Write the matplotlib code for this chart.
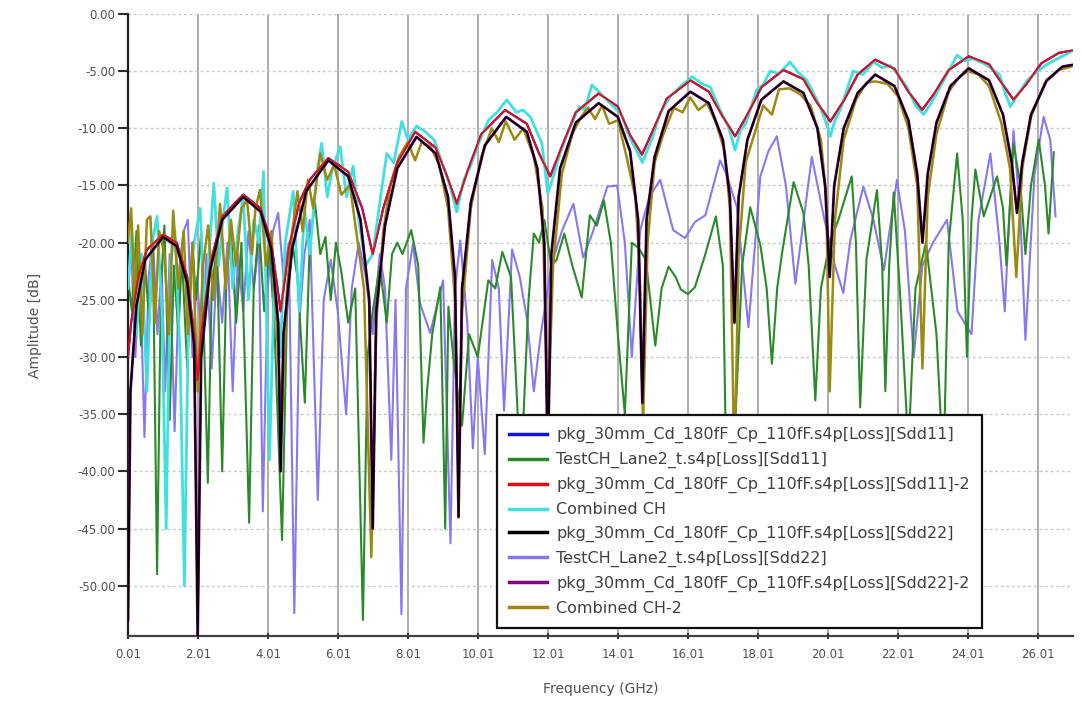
import numpy as np
import matplotlib
matplotlib.use('Agg')
import matplotlib.pyplot as plt

# ---- datos (GHz, dB) ----
# arcos del paquete Sdd11 (valles poco profundos arriba)
sdd11_pkg = [(0.01, -30), (0.1, -27), (0.3, -23), (0.55, -20.6), (1.01, -19.3), (1.4, -20),
             (1.7, -23), (1.9, -28), (2.0, -32), (2.1, -28), (2.35, -22), (2.7, -17.7),
             (3.3, -15.8), (3.8, -17), (4.1, -20), (4.37, -26), (4.6, -20.5), (4.9, -16.5),
             (5.2, -14.5), (5.73, -12.6), (6.3, -13.8), (6.7, -17), (7.0, -21), (7.3, -17),
             (7.7, -13), (8.21, -10.3), (8.8, -11.7), (9.1, -14), (9.4, -16.6), (9.7, -13.8),
             (10.1, -10.5), (10.78, -8.4), (11.4, -9.6), (11.75, -12.2), (12.07, -14.2),
             (12.4, -11.6), (12.8, -8.6), (13.45, -6.95), (14.0, -8.1), (14.35, -10.6),
             (14.69, -12.3), (15.0, -10.2), (15.4, -7.4), (16.07, -5.8), (16.6, -6.8),
             (17.0, -9.0), (17.35, -10.7), (17.7, -8.8), (18.1, -6.4), (18.73, -4.9),
             (19.3, -5.7), (19.7, -7.8), (20.07, -9.4), (20.45, -7.6), (20.85, -5.3),
             (21.35, -4.0), (21.9, -4.8), (22.3, -6.8), (22.69, -8.4), (23.05, -6.9),
             (23.45, -4.9), (24.02, -3.7), (24.6, -4.4), (25.0, -6.2), (25.3, -7.5),
             (25.65, -6.2), (26.1, -4.3), (26.6, -3.4), (26.97, -3.2)]

# arcos del paquete Sdd22 (nulos profundos)
sdd22_pkg = [(0.01, -53), (0.08, -33), (0.25, -25.5), (0.5, -21.5), (1.01, -19.5), (1.4, -20.3),
             (1.7, -23.5), (1.9, -29), (2.0, -54.4), (2.1, -30), (2.35, -22.5), (2.7, -18),
             (3.3, -16), (3.8, -17.3), (4.1, -20.5), (4.3, -27), (4.37, -40), (4.45, -28),
             (4.7, -20.5), (5.1, -15.5), (5.73, -12.8), (6.3, -14.2), (6.65, -18), (6.9, -25),
             (7.0, -45), (7.1, -26), (7.35, -18.5), (7.7, -13.5), (8.25, -10.75), (8.8, -12.2),
             (9.15, -16), (9.35, -23), (9.45, -44), (9.55, -24), (9.8, -16.5), (10.2, -11.5),
             (10.81, -9.0), (11.4, -10.3), (11.7, -13.5), (11.9, -20), (12.0, -40), (12.1, -21),
             (12.35, -13.5), (12.8, -9.5), (13.45, -7.8), (14.0, -9.0), (14.35, -12.0),
             (14.58, -18), (14.7, -34), (14.82, -18), (15.05, -12.5), (15.45, -8.5),
             (16.07, -6.8), (16.6, -7.8), (17.0, -11), (17.2, -16), (17.33, -27), (17.45, -16),
             (17.7, -11), (18.1, -7.5), (18.73, -5.9), (19.3, -6.9), (19.7, -10), (19.92, -15),
             (20.05, -23), (20.18, -15), (20.45, -10), (20.85, -6.9), (21.35, -5.3),
             (21.9, -6.3), (22.3, -9.3), (22.55, -14), (22.7, -20), (22.85, -14), (23.1, -9.5),
             (23.5, -6.3), (24.02, -4.75), (24.6, -5.8), (25.0, -8.8), (25.25, -13),
             (25.4, -17.4), (25.55, -13), (25.8, -8.8), (26.25, -5.8), (26.7, -4.6),
             (26.97, -4.46)]

combined_ch = [(0.01, -24), (0.12, -19), (0.25, -28), (0.4, -21), (0.55, -33), (0.7, -20),
               (0.84, -17.7), (0.98, -26), (1.1, -45), (1.22, -22), (1.35, -19), (1.5, -30),
               (1.62, -50), (1.75, -24), (1.9, -20), (2.07, -17), (2.2, -26), (2.35, -20),
               (2.46, -14.8), (2.6, -22), (2.72, -18), (2.84, -15.2), (3.0, -24), (3.15, -19),
               (3.3, -16), (3.45, -25), (3.6, -18), (3.75, -20), (3.88, -13.8), (4.05, -39),
               (4.2, -22), (4.35, -30), (4.5, -20), (4.73, -15.5), (4.9, -26), (5.05, -17),
               (5.2, -21), (5.4, -14), (5.54, -11.3), (5.7, -16), (5.85, -13.5), (6.07, -11.6),
               (6.25, -16), (6.44, -13.3), (6.6, -18), (6.8, -22), (7.0, -21), (7.21, -16.3),
               (7.4, -12.2), (7.6, -13), (7.83, -9.4), (8.0, -11), (8.25, -9.8), (8.5, -10.3),
               (8.75, -11.0), (9.0, -13.2), (9.2, -15), (9.4, -17.3), (9.6, -14.5),
               (9.78, -13.4), (10.0, -11.5), (10.3, -9.3), (10.55, -8.6), (10.83, -7.5),
               (11.1, -8.6), (11.3, -8.4), (11.5, -9.0), (11.83, -11.3), (12.0, -15.7),
               (12.2, -13.8), (12.35, -12.2), (12.62, -10), (12.9, -8.1), (13.05, -8.4),
               (13.26, -6.2), (13.55, -7.1), (13.87, -8.1), (14.1, -8.8), (14.35, -10.9),
               (14.58, -12.2), (14.7, -13), (15.0, -10.7), (15.2, -8.7), (15.5, -7.2),
               (15.8, -6.3), (16.12, -5.5), (16.4, -6.1), (16.64, -6.4), (16.92, -8.4),
               (17.15, -9.8), (17.35, -11.9), (17.5, -10.2), (17.65, -9.6), (17.97, -6.6),
               (18.15, -6.2), (18.35, -5.0), (18.6, -5.2), (18.92, -4.2), (19.15, -5.1),
               (19.4, -5.8), (19.7, -7.6), (19.9, -9.1), (20.07, -10.7), (20.2, -9.3),
               (20.35, -8.4), (20.72, -5.0), (21.0, -5.3), (21.3, -4.2), (21.55, -4.7),
               (21.78, -4.5), (22.0, -5.3), (22.26, -6.4), (22.5, -8.0), (22.73, -8.8),
               (22.95, -7.8), (23.2, -6.4), (23.45, -5.0), (23.69, -3.6), (23.9, -4.1),
               (24.15, -3.9), (24.5, -4.4), (24.9, -5.3), (25.05, -6.8), (25.21, -8.1),
               (25.4, -7.2), (25.69, -5.8), (25.95, -5.1), (26.21, -4.5), (26.5, -4.0),
               (26.83, -3.5), (26.97, -3.2)]

combined_ch2 = [(0.01, -20), (0.1, -17), (0.2, -25), (0.3, -18.5), (0.42, -28), (0.55, -18),
                (0.65, -17.7), (0.78, -27), (0.9, -19), (1.05, -21), (1.18, -28), (1.3, -17.2),
                (1.45, -24), (1.6, -19), (1.72, -28), (1.85, -20), (2.0, -33), (2.15, -22),
                (2.3, -18.5), (2.45, -25), (2.64, -16.6), (2.8, -24), (2.95, -18), (3.1, -22),
                (3.25, -17), (3.41, -16.3), (3.55, -21), (3.65, -17), (3.78, -15.4),
                (3.95, -22), (4.1, -19), (4.25, -27), (4.4, -36), (4.55, -24), (4.7, -19),
                (4.85, -15.5), (5.0, -19), (5.15, -14.5), (5.3, -17), (5.5, -12.2),
                (5.7, -14.5), (5.9, -13.2), (6.1, -15.8), (6.35, -15), (6.55, -19.5),
                (6.75, -24), (6.96, -47.5), (7.1, -27), (7.3, -19), (7.5, -15), (7.75, -12.5),
                (8.0, -11.2), (8.21, -12.8), (8.4, -11.2), (8.65, -11.6), (8.9, -13.2),
                (9.15, -17), (9.35, -25), (9.45, -40), (9.55, -26), (9.8, -17), (10.1, -12.5),
                (10.4, -10), (10.6, -11.2), (10.8, -9.4), (11.05, -11), (11.3, -10),
                (11.6, -12.5), (11.85, -17), (12.0, -36), (12.15, -22), (12.4, -14),
                (12.7, -10.5), (12.95, -9.0), (13.15, -8.2), (13.35, -9.2), (13.55, -8.0),
                (13.75, -9.6), (14.0, -9.3), (14.25, -12.5), (14.5, -16), (14.62, -22),
                (14.72, -36), (14.85, -20), (15.05, -13), (15.3, -10.5), (15.6, -8.2),
                (15.85, -8.6), (16.07, -7.3), (16.3, -8.4), (16.55, -7.8), (16.8, -9.5),
                (17.05, -12), (17.2, -17), (17.33, -40), (17.45, -21), (17.65, -13),
                (17.9, -10.5), (18.15, -8.0), (18.4, -8.8), (18.6, -6.6), (18.9, -6.5),
                (19.2, -7.0), (19.5, -8.0), (19.8, -11), (19.95, -16), (20.05, -33),
                (20.2, -18), (20.45, -11), (20.8, -7.5), (21.1, -6.0), (21.35, -5.9),
                (21.7, -6.1), (22.0, -7.2), (22.3, -10), (22.55, -15), (22.7, -31),
                (22.85, -16), (23.1, -10.5), (23.45, -6.8), (23.75, -5.5), (24.0, -5.0),
                (24.3, -5.3), (24.6, -6.3), (24.95, -9.5), (25.2, -13.5), (25.38, -23),
                (25.55, -13.5), (25.8, -9.0), (26.2, -6.0), (26.6, -4.9), (26.95, -4.6)]

testch_sdd11 = [(0.01, -23), (0.12, -26), (0.25, -19), (0.38, -29), (0.5, -22), (0.62, -27),
                (0.72, -20), (0.84, -49), (0.95, -24), (1.05, -18.5), (1.2, -35.5), (1.32, -22),
                (1.45, -28), (1.55, -21), (1.7, -31), (1.85, -20), (1.95, -25), (2.1, -19),
                (2.29, -41), (2.4, -24), (2.55, -20.5), (2.7, -40), (2.82, -23), (2.95, -19),
                (3.1, -27), (3.25, -20), (3.47, -44.5), (3.6, -24), (3.75, -18.5), (3.9, -26),
                (4.05, -20), (4.2, -28), (4.41, -46), (4.55, -26), (4.7, -20), (4.85, -23),
                (5.06, -34), (5.2, -20), (5.35, -16.5), (5.5, -21), (5.65, -19.5), (5.8, -25),
                (5.95, -20), (6.1, -22.5), (6.3, -27), (6.5, -24), (6.72, -53), (6.85, -30),
                (7.0, -26), (7.2, -22), (7.4, -27), (7.55, -21), (7.7, -20), (7.85, -21),
                (8.1, -18.9), (8.3, -22), (8.45, -37.5), (8.55, -33), (8.7, -28),
                (8.93, -23.9), (9.07, -45), (9.16, -25.6), (9.3, -30), (9.55, -36),
                (9.75, -28), (10.0, -30), (10.3, -23.3), (10.5, -24), (10.7, -20.8),
                (10.95, -23), (11.14, -35), (11.3, -35.5), (11.45, -25), (11.6, -19.2),
                (11.75, -20), (11.9, -18), (12.1, -22), (12.25, -21.5), (12.47, -19.2),
                (12.7, -22), (12.97, -24.8), (13.2, -17.6), (13.4, -18.5), (13.6, -16.3),
                (13.8, -20), (14.0, -28), (14.2, -35), (14.4, -20), (14.6, -20.5),
                (14.8, -21.5), (15.07, -29), (15.25, -24), (15.45, -22.1), (15.65, -23),
                (15.8, -24.1), (16.0, -24.5), (16.2, -23.9), (16.5, -21), (16.8, -17.7),
                (17.0, -22), (17.07, -35), (17.2, -42), (17.35, -36), (17.55, -22),
                (17.78, -16.9), (18.07, -20.2), (18.25, -24), (18.4, -30.6), (18.55, -24),
                (18.69, -20.9), (19.02, -14.7), (19.3, -17.4), (19.45, -22), (19.64, -33.8),
                (19.8, -24), (20.05, -20), (20.3, -18), (20.5, -16), (20.68, -14.2),
                (20.8, -20), (20.92, -34.4), (21.1, -21.5), (21.4, -15.4), (21.55, -22),
                (21.64, -33), (21.75, -22), (21.88, -15.6), (22.07, -25), (22.3, -38),
                (22.5, -24), (22.8, -20), (23.1, -28), (23.3, -40), (23.45, -20),
                (23.69, -12.2), (23.85, -18), (23.97, -30), (24.1, -18), (24.21, -13.6),
                (24.45, -17.7), (24.83, -14.2), (25.0, -17), (25.1, -22), (25.3, -11.3),
                (25.5, -15), (25.64, -21), (25.8, -15), (26.02, -11), (26.2, -15),
                (26.3, -19.2), (26.45, -12.1)]

testch_sdd22 = [(0.01, -24), (0.1, -20.5), (0.22, -30), (0.35, -22), (0.48, -37), (0.6, -23),
                (0.72, -19.5), (0.85, -28), (0.97, -22), (1.07, -33), (1.2, -21), (1.34, -36.5),
                (1.48, -22), (1.6, -19), (1.72, -18), (1.85, -30), (1.98, -23), (2.12, -29),
                (2.25, -21), (2.4, -31), (2.55, -22), (2.7, -27), (2.85, -20), (3.0, -33),
                (3.15, -21), (3.3, -26), (3.45, -19), (3.6, -24), (3.75, -20), (3.86, -43.5),
                (4.0, -24), (4.15, -19), (4.3, -17.4), (4.45, -23), (4.6, -20), (4.76, -52.4),
                (4.9, -27), (5.05, -21), (5.2, -18), (5.43, -42.5), (5.6, -25), (5.8, -21.5),
                (6.0, -26), (6.24, -35), (6.4, -24), (6.6, -20), (6.8, -23), (7.0, -28),
                (7.2, -21), (7.35, -24), (7.53, -39), (7.65, -25), (7.82, -52.5), (7.95, -24),
                (8.15, -20.1), (8.35, -25.3), (8.64, -27.9), (9.01, -23.3), (9.22, -46.3),
                (9.35, -24), (9.5, -19.8), (9.7, -27), (9.86, -38), (10.0, -30), (10.2, -38.5),
                (10.41, -21.5), (10.6, -24), (10.75, -34.7), (10.98, -20.6), (11.2, -23),
                (11.41, -26.8), (11.6, -33), (11.8, -28), (12.1, -22), (12.4, -19),
                (12.73, -16.6), (13.01, -21.3), (13.27, -19.2), (13.5, -17), (13.7, -15.1),
                (13.98, -15), (14.2, -20), (14.4, -30), (14.64, -18.9), (14.9, -16),
                (15.21, -14.5), (15.58, -18.9), (15.92, -19.6), (16.2, -18.2), (16.5, -17.6),
                (16.92, -12.8), (17.1, -14), (17.4, -16.9), (17.73, -27.4), (18.07, -14.2),
                (18.3, -12), (18.54, -10.7), (18.8, -15), (19.07, -23.6), (19.54, -12.5),
                (19.9, -18), (20.2, -22), (20.44, -24.4), (20.64, -19.8), (21.01, -15.1),
                (21.3, -18), (21.6, -22.4), (21.97, -14.5), (22.2, -19), (22.45, -30),
                (22.7, -22), (23.0, -20), (23.4, -18), (23.7, -26), (24.1, -28), (24.3, -18),
                (24.64, -12.2), (24.9, -20), (25.05, -26), (25.3, -10.2), (25.5, -18),
                (25.64, -28.5), (25.9, -14), (26.16, -9.0), (26.35, -11), (26.5, -17.7)]

nombres = ['pkg_30mm_Cd_180fF_Cp_110fF.s4p[Loss][Sdd11]',
           'TestCH_Lane2_t.s4p[Loss][Sdd11]',
           'pkg_30mm_Cd_180fF_Cp_110fF.s4p[Loss][Sdd11]-2',
           'Combined CH',
           'pkg_30mm_Cd_180fF_Cp_110fF.s4p[Loss][Sdd22]',
           'TestCH_Lane2_t.s4p[Loss][Sdd22]',
           'pkg_30mm_Cd_180fF_Cp_110fF.s4p[Loss][Sdd22]-2',
           'Combined CH-2']
colores = ['#1010e0', '#2a8a2a', '#e01010', '#40e0e0', '#000000', '#8878f0', '#800080', '#9a8a10']
series = [sdd11_pkg, testch_sdd11, sdd11_pkg, combined_ch, sdd22_pkg, testch_sdd22, sdd22_pkg, combined_ch2]
# orden de dibujo (quien queda encima) y grosor
capas = [1, 3, 6, 4, 8, 2, 7, 5]
anchos = [1.6, 1.5, 1.4, 2.0, 1.3, 1.5, 2.0, 1.8]

xticks = [0.01 + 2 * k for k in range(14)]
yticks = [0, -5, -10, -15, -20, -25, -30, -35, -40, -45, -50]

# ---- grafica ----
fig = plt.figure(figsize=(10.82, 7.02), dpi=100)
ax = fig.add_axes([0.1183, 0.094, 0.8734, 0.8861])

lineas = []
for pts, c, nom, z, w in zip(series, colores, nombres, capas, anchos):
    pts = np.array(pts)
    l, = ax.plot(pts[:, 0], pts[:, 1], color=c, lw=w, zorder=z, label=nom)
    lineas.append(l)

ax.set_xlim(0.01, 27.0)
ax.set_ylim(-54.4, 0)
ax.set_xticks(xticks)
ax.set_xticklabels(['{:.2f}'.format(t) for t in xticks])
ax.set_yticks(yticks)
ax.set_yticklabels(['{:.2f}'.format(t) for t in yticks])

ax.grid(axis='x', color='#a0a0a0', lw=1.2, ls='-')
ax.grid(axis='y', color='#c8c8c8', lw=1.0, ls=(0, (2, 2)))
ax.set_axisbelow(True)

for s in ['top', 'right']:
    ax.spines[s].set_visible(False)
ax.spines['left'].set_color('#202020')
ax.spines['left'].set_linewidth(1.6)
ax.spines['bottom'].set_color('#404040')
ax.spines['bottom'].set_linewidth(1.6)

ax.tick_params(axis='y', direction='out', length=7, width=1.5, color='#303030',
               labelsize=8.5, labelcolor='#505050', pad=2)
ax.tick_params(axis='x', direction='inout', length=5, width=1.5, color='#303030',
               labelsize=8.5, labelcolor='#505050', pad=6)

ax.set_xlabel('Frequency (GHz)', fontsize=10, color='#505050', labelpad=15)
ax.set_ylabel('Amplitude [dB]', fontsize=10, color='#505050', labelpad=26)

leg = ax.legend(handles=lineas, loc='upper left', bbox_to_anchor=(0.39, 0.355),
                borderaxespad=0, fontsize=11.5, frameon=True, fancybox=False,
                framealpha=1, edgecolor='#101010', handlelength=2.4, labelspacing=0.55,
                borderpad=0.75, handletextpad=0.6)
leg.get_frame().set_linewidth(1.6)
leg.set_zorder(20)
for t in leg.get_texts():
    t.set_color('#404040')
for h in leg.get_lines():
    h.set_linewidth(2.5)

plt.savefig('out.png', dpi=100)
